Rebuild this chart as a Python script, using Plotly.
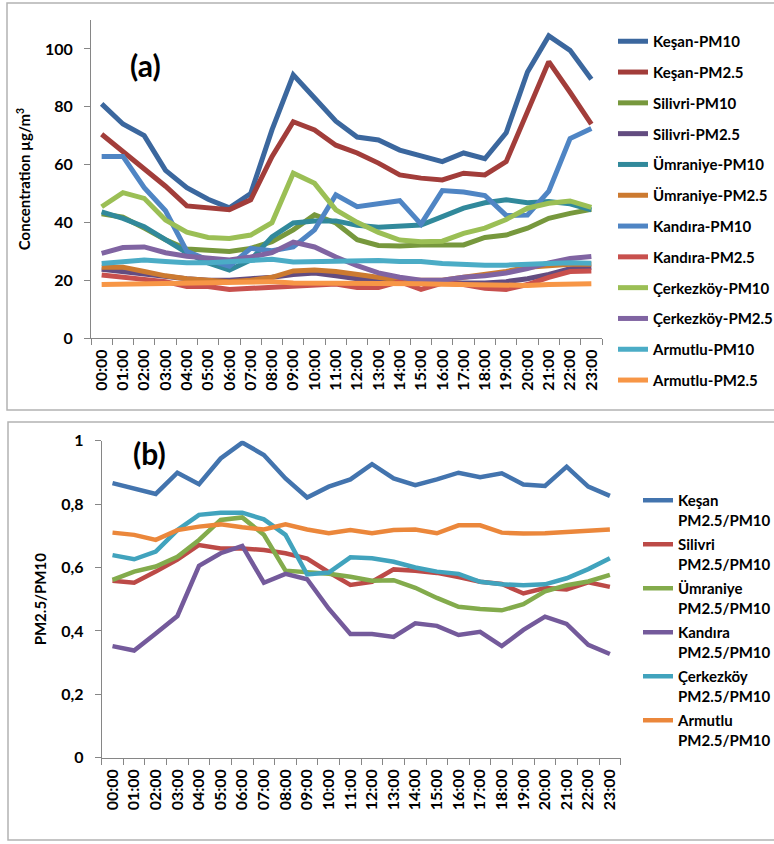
import plotly.graph_objects as go

# Hour-of-day categories
hours = ["00:00", "01:00", "02:00", "03:00", "04:00", "05:00", "06:00", "07:00",
         "08:00", "09:00", "10:00", "11:00", "12:00", "13:00", "14:00", "15:00",
         "16:00", "17:00", "18:00", "19:00", "20:00", "21:00", "22:00", "23:00"]

# (a) Hourly mean concentrations, µg/m3
kesan_pm10 = [81, 74, 70, 58, 52, 48, 45, 50, 72, 91, 83, 75, 69.5, 68.5, 65, 63, 61, 64, 62, 71, 92, 104.5, 99.5, 89.5]
kesan_pm25 = [70.5, 64.5, 59, 52.5, 45.7, 45.2, 44.4, 47.8, 62.7, 74.8, 72, 66.7, 64, 60.5, 56.4, 55.3, 54.7, 57, 56.4, 61, 78.3, 95.6, 85, 74]
silivri_pm10 = [43, 41.8, 38, 34, 30.8, 30.4, 29.9, 31, 33.3, 37.4, 42.6, 39.8, 34, 32, 31.8, 32.2, 32.2, 32.2, 34.8, 35.6, 38, 41.4, 43.1, 44.5]
silivri_pm25 = [23.8, 23, 22, 21, 20.5, 20, 20, 20.5, 21, 22, 22.5, 21.5, 20.5, 20, 19.2, 19, 19, 19, 19, 19.5, 20.5, 22, 24, 24.5]
umraniye_pm10 = [43.6, 41.4, 38.5, 34, 29.5, 26, 23.5, 27, 35, 39.8, 40.5, 40.5, 39, 38.3, 38.5, 39.1, 42, 44.9, 46.8, 47.8, 46.8, 47.2, 46.4, 44.3]
umraniye_pm25 = [24.5, 24.5, 23, 21.5, 20.5, 20, 19.5, 20, 21, 23.2, 23.5, 23, 22, 21, 20, 20, 20, 21, 22, 23, 24.5, 25, 25.5, 25.5]
kandira_pm10 = [62.8, 62.8, 52, 44, 30, 27, 24.8, 31, 30.2, 31.5, 37.4, 49.5, 45.4, 46.5, 47.5, 39.4, 51, 50.5, 49.3, 42.4, 42.5, 50.8, 69, 72.5]
kandira_pm25 = [21.8, 21, 20, 19.5, 17.8, 17.8, 16.8, 17.2, 17.8, 18, 18.3, 18.7, 17.5, 17.5, 19.5, 16.8, 19, 18.5, 17.2, 16.8, 18.5, 21, 23, 23.2]
cerkezkoy_pm10 = [45.4, 50.3, 48.3, 40.8, 36.6, 34.8, 34.4, 35.6, 39.9, 57, 53.5, 44.3, 40, 36.5, 33.9, 33.3, 33.5, 36.2, 38, 41, 44.9, 46.6, 47.4, 45.2]
cerkezkoy_pm25 = [29.3, 31.3, 31.5, 29.5, 28.3, 27.5, 27, 28, 29.5, 33.2, 31.5, 28, 25, 22.5, 21, 20, 20, 21, 21.5, 22.5, 24, 26, 27.5, 28.2]
armutlu_pm10 = [25.8, 26.2, 27, 26.5, 26, 26, 26.3, 27, 27.2, 26.3, 26.5, 26.8, 27, 26.8, 26.5, 26.5, 25.8, 25.3, 25.2, 25.2, 25.3, 25.8, 26, 25.9]
armutlu_pm25 = [18.5, 18.6, 18.8, 19, 19.2, 19.3, 19.2, 19.3, 19.5, 19, 19, 19.2, 19, 18.9, 18.8, 18.8, 18.6, 18.5, 18.3, 18.2, 18.2, 18.5, 18.8, 18.8]

# (b) Hourly PM2.5/PM10 ratios
kesan_ratio = [0.866, 0.85, 0.832, 0.899, 0.863, 0.944, 0.994, 0.955, 0.881, 0.821, 0.855, 0.878, 0.926, 0.881, 0.86, 0.878, 0.899, 0.885, 0.897, 0.862, 0.857, 0.918, 0.855, 0.826]
silivri_ratio = [0.558, 0.552, 0.587, 0.625, 0.671, 0.66, 0.66, 0.655, 0.645, 0.628, 0.585, 0.545, 0.555, 0.594, 0.59, 0.583, 0.57, 0.555, 0.548, 0.518, 0.535, 0.531, 0.553, 0.539]
umraniye_ratio = [0.561, 0.587, 0.603, 0.634, 0.687, 0.75, 0.758, 0.703, 0.59, 0.585, 0.58, 0.571, 0.558, 0.56, 0.536, 0.504, 0.476, 0.469, 0.465, 0.484, 0.525, 0.544, 0.556, 0.577]
kandira_ratio = [0.352, 0.338, 0.392, 0.447, 0.605, 0.645, 0.668, 0.552, 0.58, 0.563, 0.47, 0.39, 0.39, 0.381, 0.424, 0.416, 0.387, 0.397, 0.352, 0.403, 0.445, 0.422, 0.356, 0.327]
cerkezkoy_ratio = [0.639, 0.626, 0.65, 0.718, 0.766, 0.773, 0.773, 0.752, 0.703, 0.578, 0.584, 0.632, 0.629, 0.618, 0.6, 0.587, 0.58, 0.555, 0.547, 0.544, 0.547, 0.566, 0.595, 0.629]
armutlu_ratio = [0.71, 0.703, 0.687, 0.718, 0.729, 0.736, 0.727, 0.72, 0.736, 0.72, 0.708, 0.718, 0.708, 0.718, 0.72, 0.708, 0.733, 0.733, 0.71, 0.707, 0.708, 0.712, 0.716, 0.72]

ratio_ticks = [0, 0.2, 0.4, 0.6, 0.8, 1]
ratio_ticktext = ["0", "0,2", "0,4", "0,6", "0,8", "1"]
conc_ticks = [0, 20, 40, 60, 80, 100]

W, H = 774, 844
FONT = "Lato"

top_series = [
    ("Keşan-PM10", kesan_pm10, "#3B679E"),
    ("Keşan-PM2.5", kesan_pm25, "#A23D3A"),
    ("Silivri-PM10", silivri_pm10, "#77983D"),
    ("Silivri-PM2.5", silivri_pm25, "#634C80"),
    ("Ümraniye-PM10", umraniye_pm10, "#31899B"),
    ("Ümraniye-PM2.5", umraniye_pm25, "#CC7A30"),
    ("Kandıra-PM10", kandira_pm10, "#4F85C4"),
    ("Kandıra-PM2.5", kandira_pm25, "#C8504D"),
    ("Çerkezköy-PM10", cerkezkoy_pm10, "#9BBF55"),
    ("Çerkezköy-PM2.5", cerkezkoy_pm25, "#8064A2"),
    ("Armutlu-PM10", armutlu_pm10, "#4BACC6"),
    ("Armutlu-PM2.5", armutlu_pm25, "#F79646"),
]

bottom_series = [
    ("Keşan<br>PM2.5/PM10", kesan_ratio, "#4374AE"),
    ("Silivri<br>PM2.5/PM10", silivri_ratio, "#BC4A47"),
    ("Ümraniye<br>PM2.5/PM10", umraniye_ratio, "#83AB4C"),
    ("Kandıra<br>PM2.5/PM10", kandira_ratio, "#745A9B"),
    ("Çerkezköy<br>PM2.5/PM10", cerkezkoy_ratio, "#41A3BD"),
    ("Armutlu<br>PM2.5/PM10", armutlu_ratio, "#EB873B"),
]

fig = go.Figure()

for i, (name, vals, color) in enumerate(top_series):
    fig.add_trace(go.Scatter(
        x=hours, y=vals, name=name, mode="lines",
        line=dict(color=color, width=5),
        xaxis="x", yaxis="y", legend="legend", legendgroup=f"a{i}",
    ))

for i, (name, vals, color) in enumerate(bottom_series):
    fig.add_trace(go.Scatter(
        x=hours, y=vals, name=name, mode="lines",
        line=dict(color=color, width=4.5),
        xaxis="x2", yaxis="y2", legend="legend2", legendgroup=f"b{i}",
    ))


def px_x(p):
    return p / W


def px_y(p):
    return 1 - p / H


axis_common = dict(
    showline=True, linecolor="#868686", linewidth=1,
    ticks="outside", tickcolor="#868686", ticklen=6,
    showgrid=False, zeroline=False,
    tickfont=dict(family=FONT, size=16, color="black", weight="bold"),
)

fig.update_layout(
    width=W, height=H,
    margin=dict(l=0, r=0, t=0, b=0, autoexpand=False),
    paper_bgcolor="white", plot_bgcolor="white",
    font=dict(family=FONT, color="black"),
    showlegend=True,
    xaxis=dict(axis_common, domain=[px_x(91), px_x(602)], anchor="y",
               type="category", range=[-0.5, 23.5], tickson="boundaries",
               tickangle=-90, ticklabelstandoff=4),
    yaxis=dict(axis_common, domain=[px_y(338), px_y(20)], anchor="x",
               range=[0, 110], tickvals=conc_ticks, ticklabelstandoff=8,
               title=dict(text="Concentration µg/m<sup>3</sup>", standoff=10,
                          font=dict(family=FONT, size=15, color="black", weight="bold"))),
    xaxis2=dict(axis_common, domain=[px_x(101.7), px_x(620.7)], anchor="y2",
                type="category", range=[-0.5, 23.5], tickson="boundaries",
                tickangle=-90, ticklabelstandoff=4),
    yaxis2=dict(axis_common, domain=[px_y(757.7), px_y(440.7)], anchor="x2",
                range=[0, 1], tickvals=ratio_ticks, ticktext=ratio_ticktext,
                ticklabelstandoff=8,
                title=dict(text="PM2.5/PM10", standoff=10,
                           font=dict(family=FONT, size=15, color="black", weight="bold"))),
    legend=dict(x=px_x(613), y=px_y(25), xanchor="left", yanchor="top",
                bgcolor="rgba(0,0,0,0)", tracegroupgap=8.3,
                font=dict(family=FONT, size=15, color="black", weight="bold")),
    legend2=dict(x=px_x(638), y=px_y(484), xanchor="left", yanchor="top",
                 bgcolor="rgba(0,0,0,0)", tracegroupgap=2, valign="top",
                 font=dict(family=FONT, size=15, color="black", weight="bold")),
    annotations=[
        dict(text="(a)", x=px_x(128), y=px_y(65), xref="paper", yref="paper",
             xanchor="left", yanchor="middle", showarrow=False,
             font=dict(family=FONT, size=30, color="black", weight="bold")),
        dict(text="(b)", x=px_x(131), y=px_y(453), xref="paper", yref="paper",
             xanchor="left", yanchor="middle", showarrow=False,
             font=dict(family=FONT, size=30, color="black", weight="bold")),
    ],
    shapes=[
        dict(type="rect", xref="paper", yref="paper",
             x0=px_x(7), x1=px_x(790), y0=px_y(410), y1=px_y(3),
             line=dict(color="#B3B3B3", width=1.5), fillcolor="rgba(0,0,0,0)", layer="below"),
        dict(type="rect", xref="paper", yref="paper",
             x0=px_x(8), x1=px_x(790), y0=px_y(840), y1=px_y(422),
             line=dict(color="#B3B3B3", width=1.5), fillcolor="rgba(0,0,0,0)", layer="below"),
    ],
)

fig.write_html("out.html")
